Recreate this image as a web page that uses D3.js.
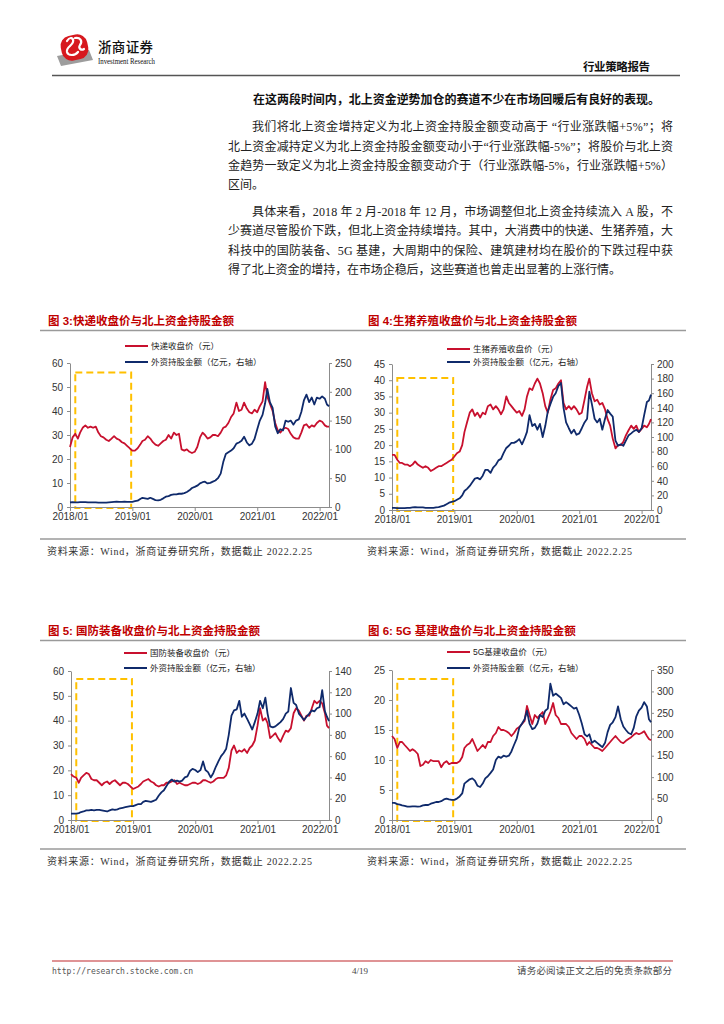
<!DOCTYPE html>
<html>
<head>
<meta charset="utf-8">
<script src="https://cdn.jsdelivr.net/npm/d3@7"></script>
<style>
  body { margin: 0; background: #fff; }
  svg { display: block; }
</style>
</head>
<body>
<svg class="page" width="724" height="1024"></svg>
<script>
// semi-monthly sample dates, shared by all four charts
const dates = [
  "2018-01-01","2018-01-16","2018-02-01","2018-02-16","2018-03-01","2018-03-16","2018-04-01","2018-04-16","2018-05-01","2018-05-16",
  "2018-06-01","2018-06-16","2018-07-01","2018-07-16","2018-08-01","2018-08-16","2018-09-01","2018-09-16","2018-10-01","2018-10-16",
  "2018-11-01","2018-11-16","2018-12-01","2018-12-16","2019-01-01","2019-01-16","2019-02-01","2019-02-16","2019-03-01","2019-03-16",
  "2019-04-01","2019-04-16","2019-05-01","2019-05-16","2019-06-01","2019-06-16","2019-07-01","2019-07-16","2019-08-01","2019-08-16",
  "2019-09-01","2019-09-16","2019-10-01","2019-10-16","2019-11-01","2019-11-16","2019-12-01","2019-12-16","2020-01-01","2020-01-16",
  "2020-02-01","2020-02-16","2020-03-01","2020-03-16","2020-04-01","2020-04-16","2020-05-01","2020-05-16","2020-06-01","2020-06-16",
  "2020-07-01","2020-07-16","2020-08-01","2020-08-16","2020-09-01","2020-09-16","2020-10-01","2020-10-16","2020-11-01","2020-11-16",
  "2020-12-01","2020-12-16","2021-01-01","2021-01-16","2021-02-01","2021-02-16","2021-03-01","2021-03-16","2021-04-01","2021-04-16",
  "2021-05-01","2021-05-16","2021-06-01","2021-06-16","2021-07-01","2021-07-16","2021-08-01","2021-08-16","2021-09-01","2021-09-16",
  "2021-10-01","2021-10-16","2021-11-01","2021-11-16","2021-12-01","2021-12-16","2022-01-01","2022-01-16","2022-02-01","2022-02-13",
  "2022-02-25"
];

// 图3 快递
const expressPrice = [
  25, 29, 30.5, 28.5, 31, 33, 34, 33, 33.5, 33,
  33.5, 31, 29.5, 29, 28, 27.5, 28.5, 29.5, 28.5, 28,
  27, 26.5, 25.5, 24.5, 23.5, 23.5, 24.5, 26, 27.5, 28,
  29.5, 28.5, 27, 26, 25.5, 26.5, 27.5, 28, 30, 28.5,
  31, 30, 30.5, 24, 23.5, 24, 23, 22.5, 23, 25,
  29, 31, 30, 28.5, 29, 30, 30, 29.5, 31, 33,
  33.5, 35, 37.5, 39, 43.5, 40, 40.5, 43.5, 41, 39.5,
  39, 40.5, 39.5, 42, 44, 52, 46, 43, 40, 35,
  32, 31, 32.5, 33, 32.5, 30.5, 29, 28.5, 28.5, 31,
  34, 34.5, 33, 34, 33.5, 35, 36, 35.5, 34, 33.5,
  33.5
];
const expressHold = [
  8, 8.5, 8, 8, 8.5, 8.5, 8.5, 8, 8, 8,
  8, 7.5, 7.5, 7.5, 7.5, 8, 8.5, 9, 9.5, 9,
  9, 9.5, 9, 9, 9, 10, 11, 14, 16, 15,
  14, 16, 14, 12, 11.5, 12.5, 15, 18, 19, 21,
  22, 22, 23, 23, 24, 26, 29, 33, 35, 37,
  41, 43, 44, 41, 42, 44, 46, 50, 58, 78,
  92, 95, 98, 102, 110, 112, 115, 122, 112, 107,
  110, 118, 135, 150, 160, 180, 205, 182, 172, 140,
  128, 135, 133, 150, 148, 150, 143, 150, 152, 165,
  185, 195, 182, 190, 178, 190, 188, 192, 188, 178,
  175
];

// 图4 生猪养殖
const pigPrice = [
  17, 17, 15.5, 14.5, 14.5, 14, 14, 13.5, 14, 15,
  14, 13.5, 13, 13.5, 13, 12, 12.5, 13, 13.5, 13.5,
  14, 14.5, 15, 15.5, 16.5, 17.5, 18, 20, 24, 27,
  30, 31, 29, 30, 28.5, 30, 29.5, 32, 32.5, 31,
  32, 31, 29.5, 31, 35, 33, 32, 31, 30, 30.5,
  29, 31, 35, 37.5, 37, 39, 40.5, 39, 36, 32,
  30, 34, 37, 37.5, 39, 40, 33, 31, 32, 31,
  32, 31, 29.5, 30, 34, 38, 40.5, 36, 33.5, 34,
  32.5, 33, 31, 28, 26, 22, 19, 20, 20, 21,
  23, 24.5, 26, 25, 26, 24, 25, 26, 25.5, 26.5,
  28
];
const pigHold = [
  3, 3, 2.5, 2.5, 2.5, 2.5, 3, 3, 3.5, 4,
  3.5, 3.5, 3.5, 3, 3, 3, 3, 3.5, 4, 5,
  6, 8, 10, 11, 12, 14, 16, 20, 26, 29,
  33, 38, 43, 44, 42, 47, 55, 55, 51, 58,
  62, 68, 70, 78, 85, 88, 92, 92, 94, 97,
  90, 98, 107, 130, 115, 118, 110, 118, 100, 115,
  135, 145, 155, 160, 170, 174, 140, 120, 112, 105,
  110, 103, 105, 112, 120, 125, 162, 145, 125, 120,
  125, 110, 125, 137, 132, 128, 95, 88, 90, 88,
  95, 102, 105, 108, 110, 107, 112, 130, 148, 150,
  158
];

// 图5 国防装备
const defensePrice = [
  18.5, 17.5, 17, 15, 17, 18, 19, 18.5, 16.5, 16,
  16, 15, 14, 15, 15.5, 14.5, 15.5, 16, 15, 14,
  15, 15, 14.5, 13.5, 12.5, 13, 13.5, 14.5, 15.5, 16,
  16.5, 15.5, 15, 14, 13.5, 14, 14, 15, 15, 15.5,
  16, 14.5, 15, 14.5, 14, 14, 14.5, 15, 15, 14.5,
  15, 16, 16, 15.5, 15, 15.5, 16.5, 17, 17, 17,
  18, 21, 28, 30, 27, 28, 27.5, 28.5, 27, 29,
  30, 32, 38, 45, 40, 41, 39, 33, 34, 35,
  33, 31.5, 34, 36, 35.5, 37, 43, 45, 44, 42,
  40, 42, 42, 45, 48, 47, 48, 47, 43, 38,
  37
];
const defenseHold = [
  6, 6, 6, 6.5, 7.5, 8, 9, 9, 9.5, 9,
  9.5, 9.5, 9, 8.5, 8, 9, 10, 9.5, 10, 11,
  11.5, 12, 12.5, 13, 13, 14, 15, 15, 17, 18,
  17.5, 17, 18, 19, 23, 26, 28, 32, 36, 38,
  36, 37, 36, 37, 40, 41, 46, 48, 47, 45,
  47, 55, 47, 45, 40, 44, 50, 55, 60, 63,
  67, 80, 98, 103, 104, 112, 97, 100, 95, 90,
  85, 92, 100, 112, 105, 115, 100, 88, 87, 88,
  90, 92, 95, 100, 102, 124, 110, 108, 100, 97,
  94, 97, 100, 103, 102, 105, 106, 122, 102, 97,
  93
];

// 图6 5G基建
const g5Price = [
  14, 13.5, 12, 13, 13, 12.5, 12, 11.5, 11.8, 11.5,
  11, 9, 9.2, 9.8, 9.5, 10, 9.8, 9.8, 9.8, 8.8,
  9.5, 9.8, 9.3, 9.5, 9.5, 9.5, 9.8, 10.5, 12, 12.5,
  12.8, 13.5, 12.5, 11.5, 12, 12.5, 12, 13, 13, 14,
  14.5, 15.5, 15, 15, 14.8, 14.5, 14, 14.5, 15.2, 15.5,
  16, 16.5, 19, 17.5, 16, 17.5, 17, 17.5, 18, 16,
  17, 18, 19.5, 17.5, 17, 16, 16, 16, 15.5, 14.5,
  14, 13.5, 14, 14, 13.5, 12.5, 13, 12.5, 12, 12,
  11.8, 11.5, 12, 12.5, 13, 13.5, 14, 13.5, 13, 12.8,
  13.2, 13.5, 13.8, 14.2, 14.5, 14.3, 14.5, 14.8, 14, 13.5,
  13.3
];
const g5Hold = [
  40, 40, 37, 36, 34, 33, 31, 31, 32, 32,
  31, 32, 34, 35, 35, 38, 40, 42, 42, 44,
  48, 50, 48, 47, 47, 50, 55, 62, 85, 90,
  95, 97, 92, 80, 77, 85, 97, 102, 110, 118,
  140, 148, 145, 150, 148, 150, 160, 175, 190, 215,
  225, 235, 255, 225, 212, 215, 225, 245, 240, 255,
  260, 318, 290, 295, 290, 285, 270, 275, 270, 265,
  260, 262, 245, 225, 200, 195, 200, 180, 185, 180,
  175, 170, 180, 205, 222, 228, 240, 265, 235, 218,
  210, 203, 200, 215, 242, 255, 262, 275, 265, 235,
  228
];

const yearTicks = ["2018-01-01", "2019-01-01", "2020-01-01", "2021-01-01", "2022-01-01"];
const boxRange = ["2018-02-01", "2018-12-25"];

const parse = d3.timeParse("%Y-%m-%d");
const svg = d3.select('svg.page');
const cjk = "'Liberation Serif', 'Noto Sans CJK SC', serif";
const sans = "'Liberation Sans', Arial, sans-serif";

function drawChart(cfg){
  const g = svg.append('g').attr('class', 'chart');

  const x = d3.scaleTime()
    .domain([parse("2018-01-01"), parse("2022-02-25")])
    .range([cfg.left, cfg.right]);
  const yL = d3.scaleLinear().domain([0, d3.max(cfg.leftTicks)]).range([cfg.bottom, cfg.top]);
  const yR = d3.scaleLinear().domain([0, d3.max(cfg.rightTicks)]).range([cfg.bottom, cfg.top]);

  g.append('text')
    .text(cfg.title)
    .attr('x', cfg.titleX).attr('y', cfg.titleY)
    .style('font-family', "'Liberation Sans', 'Noto Sans CJK SC', sans-serif")
    .style('font-weight', 700)
    .style('font-size', '11.5px')
    .style('fill', '#c00000');

  // highlighted period
  g.append('rect')
    .attr('x', x(parse(boxRange[0])))
    .attr('y', yL(cfg.boxTop))
    .attr('width', x(parse(boxRange[1])) - x(parse(boxRange[0])))
    .attr('height', yL(0) - yL(cfg.boxTop) + 1)
    .style('fill', 'none')
    .style('stroke', '#ffc000')
    .style('stroke-width', 2)
    .style('stroke-dasharray', '7,4');

  const axisStyle = sel => {
    sel.select('.domain').style('stroke', '#8c8c8c');
    sel.selectAll('.tick line').style('stroke', '#8c8c8c');
    sel.selectAll('.tick text')
      .style('font-family', sans)
      .style('font-size', '10px')
      .style('fill', '#333');
  };

  g.append('g')
    .attr('transform', `translate(${cfg.left},0)`)
    .call(d3.axisLeft(yL).tickValues(cfg.leftTicks).tickSize(3).tickSizeOuter(0).tickPadding(4))
    .call(axisStyle);

  g.append('g')
    .attr('transform', `translate(${cfg.right},0)`)
    .call(d3.axisRight(yR).tickValues(cfg.rightTicks).tickSize(3).tickSizeOuter(0).tickPadding(3))
    .call(axisStyle);

  g.append('g')
    .attr('transform', `translate(0,${cfg.bottom})`)
    .call(d3.axisBottom(x).tickValues(yearTicks.map(parse)).tickFormat(d3.timeFormat("%Y/%m")).tickSize(4).tickSizeOuter(0).tickPadding(2))
    .call(axisStyle);

  const priceData = dates.map((d, i) => ({date: parse(d), v: cfg.price[i]}));
  const holdData = dates.map((d, i) => ({date: parse(d), v: cfg.hold[i]}));

  g.append('path')
    .datum(priceData)
    .attr('d', d3.line().x(d => x(d.date)).y(d => yL(d.v)))
    .style('fill', 'none').style('stroke', '#c8102e').style('stroke-width', 1.8)
    .style('stroke-linejoin', 'round');

  g.append('path')
    .datum(holdData)
    .attr('d', d3.line().x(d => x(d.date)).y(d => yR(d.v)))
    .style('fill', 'none').style('stroke', '#0f2a6b').style('stroke-width', 1.8)
    .style('stroke-linejoin', 'round');

  const legend = [
    {label: cfg.priceLabel, color: '#c8102e', y: cfg.legendY[0]},
    {label: "外资持股金额（亿元，右轴）", color: '#0f2a6b', y: cfg.legendY[1]}
  ];
  const lg = g.selectAll('g.legend').data(legend).enter().append('g').attr('class', 'legend');
  lg.append('line')
    .attr('x1', cfg.legendX).attr('x2', cfg.legendX + 23)
    .attr('y1', d => d.y).attr('y2', d => d.y)
    .style('stroke', d => d.color).style('stroke-width', 2);
  lg.append('text')
    .text(d => d.label)
    .attr('x', cfg.legendX + 26).attr('y', d => d.y + 3)
    .style('font-family', "'Liberation Sans', 'Noto Sans CJK SC', sans-serif")
    .style('font-size', '8.5px')
    .style('fill', '#222');
}

// ---------- page furniture ----------
function hline(x1, x2, y, color, w){
  svg.append('line').attr('x1', x1).attr('x2', x2).attr('y1', y).attr('y2', y)
    .style('stroke', color).style('stroke-width', w);
}
function txt(s, x, y, size, opts = {}){
  const t = svg.append('text').text(s).attr('x', x).attr('y', y)
    .style('font-family', opts.family || cjk)
    .style('font-size', size + 'px')
    .style('font-weight', opts.weight || 400)
    .style('fill', opts.fill || '#222');
  if (opts.anchor) t.attr('text-anchor', opts.anchor);
  if (opts.len) t.attr('textLength', opts.len).attr('lengthAdjust', opts.adjust || 'spacing');
  return t;
}

// logo
svg.append('path')
  .attr('d', 'M57,56 L89,50 L93,60 L61,66 Z')
  .style('fill', '#9d9d9d');
svg.append('rect')
  .attr('x', 61).attr('y', 35).attr('width', 27).attr('height', 25).attr('rx', 10)
  .attr('transform', 'rotate(-12 74.5 47.5)')
  .style('fill', '#d7191f');
svg.append('path')
  .attr('d', 'M67,41 C70,36 74,38 73,42 C72,46 66,47 67,52 C68,56 75,56 78,52 M75,38 C80,37 83,41 80,45 C78,48 81,51 84,49')
  .style('fill', 'none').style('stroke', '#fff').style('stroke-width', 2.2).style('stroke-linecap', 'round');

txt("浙商证券", 98, 52, 13.5, {family: "'Noto Sans CJK SC', sans-serif", weight: 500, len: 55, fill: '#111'});
txt("Investment Research", 98, 64, 8, {family: "'Liberation Serif', serif", len: 57, adjust: 'spacingAndGlyphs', fill: '#111'});
txt("行业策略报告", 583, 71, 11.5, {family: "'Noto Sans CJK SC', sans-serif", weight: 700, len: 67, fill: '#111'});
hline(52, 680, 75.5, '#555', 1.5);

// body text
txt("在这两段时间内，北上资金逆势加仓的赛道不少在市场回暖后有良好的表现。", 253, 104, 12, {weight: 700, len: 407, fill: '#111'});
const para = [
  {s: "我们将北上资金增持定义为北上资金持股金额变动高于 “行业涨跌幅+5%”；将", x: 252, y: 131, len: 421},
  {s: "北上资金减持定义为北上资金持股金额变动小于“行业涨跌幅-5%”；将股价与北上资", x: 228, y: 150.5, len: 445},
  {s: "金趋势一致定义为北上资金持股金额变动介于（行业涨跌幅-5%，行业涨跌幅+5%）", x: 228, y: 170, len: 445},
  {s: "区间。", x: 228, y: 189, len: 0},
  {s: "具体来看，2018 年 2 月-2018 年 12 月，市场调整但北上资金持续流入 A 股，不", x: 252, y: 215.5, len: 421},
  {s: "少赛道尽管股价下跌，但北上资金持续增持。其中，大消费中的快递、生猪养殖，大", x: 228, y: 235, len: 445},
  {s: "科技中的国防装备、5G 基建，大周期中的保险、建筑建材均在股价的下跌过程中获", x: 228, y: 254.5, len: 445},
  {s: "得了北上资金的增持，在市场企稳后，这些赛道也曾走出显著的上涨行情。", x: 228, y: 274, len: 393}
];
para.forEach(p => txt(p.s, p.x, p.y, 12, p.len ? {len: p.len} : {}));

// chart frames
hline(40, 686, 330.5, '#9a9a9a', 1.5);
hline(40, 686, 539, '#9a9a9a', 1.5);
hline(40, 686, 640.5, '#9a9a9a', 1.5);
hline(40, 686, 849, '#9a9a9a', 1.5);
[[47, 555], [367, 555], [47, 865], [367, 865]].forEach(p =>
  txt("资料来源：Wind，浙商证券研究所，数据截止 2022.2.25", p[0], p[1], 10, {len: 265, fill: '#333'}));

drawChart({
  title: "图 3:快递收盘价与北上资金持股金额", titleX: 48, titleY: 325,
  left: 70, right: 329, top: 363, bottom: 507,
  leftTicks: [0, 10, 20, 30, 40, 50, 60], rightTicks: [0, 50, 100, 150, 200, 250],
  price: expressPrice, hold: expressHold, priceLabel: "快递收盘价（元）",
  legendX: 125, legendY: [346, 362], boxTop: 56
});
drawChart({
  title: "图 4:生猪养殖收盘价与北上资金持股金额", titleX: 368, titleY: 325,
  left: 392, right: 651, top: 364, bottom: 510,
  leftTicks: [0, 5, 10, 15, 20, 25, 30, 35, 40, 45], rightTicks: [0, 20, 40, 60, 80, 100, 120, 140, 160, 180, 200],
  price: pigPrice, hold: pigHold, priceLabel: "生猪养殖收盘价（元）",
  legendX: 447, legendY: [349, 362], boxTop: 40.7
});
drawChart({
  title: "图 5: 国防装备收盘价与北上资金持股金额", titleX: 48, titleY: 635,
  left: 71, right: 329, top: 671, bottom: 820,
  leftTicks: [0, 10, 20, 30, 40, 50, 60], rightTicks: [0, 20, 40, 60, 80, 100, 120, 140],
  price: defensePrice, hold: defenseHold, priceLabel: "国防装备收盘价（元）",
  legendX: 124, legendY: [653, 668], boxTop: 56.8
});
drawChart({
  title: "图 6: 5G 基建收盘价与北上资金持股金额", titleX: 368, titleY: 635,
  left: 392, right: 651, top: 670, bottom: 820,
  leftTicks: [0, 5, 10, 15, 20, 25], rightTicks: [0, 50, 100, 150, 200, 250, 300, 350],
  price: g5Price, hold: g5Hold, priceLabel: "5G基建收盘价（元）",
  legendX: 447, legendY: [652, 668], boxTop: 23.5
});

// footer
hline(52, 673, 961, '#c0282d', 1.2);
txt("http://research.stocke.com.cn", 52, 974, 8.5, {family: "'DejaVu Sans Mono', monospace", len: 141, adjust: 'spacingAndGlyphs', fill: '#555'});
txt("4/19", 352, 974, 9, {family: "'Liberation Serif', serif", fill: '#444'});
txt("请务必阅读正文之后的免责条款部分", 672, 974, 9.5, {anchor: 'end', len: 155, fill: '#444'});
</script>
</body>
</html>
